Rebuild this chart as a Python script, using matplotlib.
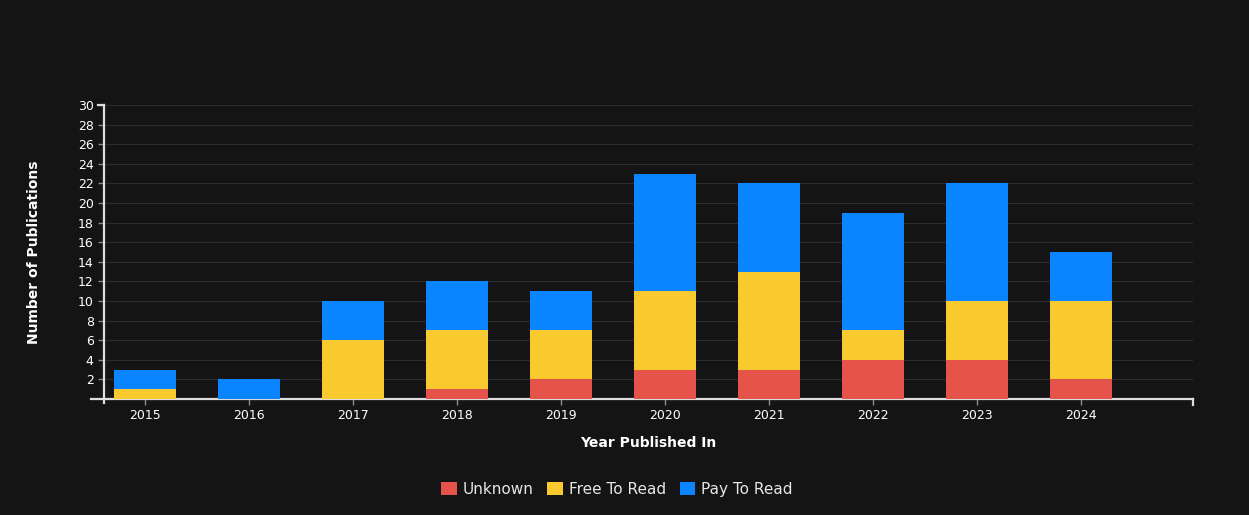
import matplotlib.pyplot as plt
import numpy as np

years = ['2015', '2016', '2017', '2018', '2019', '2020', '2021', '2022', '2023', '2024']
unknown = [0, 0, 0, 1, 2, 3, 3, 4, 4, 2]
free_to_read = [1, 0, 6, 6, 5, 8, 10, 3, 6, 8]
pay_to_read = [2, 2, 4, 5, 4, 12, 9, 12, 12, 5]
y_ticks = list(range(2, 31, 2))

bg = '#141414'
fig = plt.figure(figsize=(12.49, 5.15), dpi=100, facecolor=bg)
ax = fig.add_axes([0.0833, 0.2252, 0.8718, 0.5708])
ax.set_facecolor(bg)

x = np.arange(len(years))
u = np.array(unknown)
f = np.array(free_to_read)
p = np.array(pay_to_read)
w = 0.6
ax.bar(x, u, w, color='#E5534B', label='Unknown', zorder=3)
ax.bar(x, f, w, bottom=u, color='#F9CA2F', label='Free To Read', zorder=3)
ax.bar(x, p, w, bottom=u + f, color='#0A84FF', label='Pay To Read', zorder=3)

ax.set_xlim(-0.394, 10.077)
ax.set_ylim(0, 30)
ax.set_xticks(x)
ax.set_xticklabels(years)
ax.set_yticks(y_ticks)
ax.tick_params(colors='#888888', labelcolor='white', labelsize=9, length=4, width=1)
ax.grid(axis='y', color='#2c2c2c', linewidth=0.8, zorder=0)

for side in ['top', 'right']:
    ax.spines[side].set_visible(False)
for side in ['left', 'bottom']:
    ax.spines[side].set_color('#dddddd')
    ax.spines[side].set_linewidth(1.6)

# end ticks of the axes
ax.plot([0, -0.006], [1, 1], transform=ax.transAxes, color='#dddddd', lw=1.6, clip_on=False)
ax.plot([0, 0], [0, -0.012], transform=ax.transAxes, color='#dddddd', lw=1.6, clip_on=False)
ax.plot([1, 1], [0, -0.02], transform=ax.transAxes, color='#dddddd', lw=1.6, clip_on=False)
ax.plot([0, -0.012], [0, 0], transform=ax.transAxes, color='#dddddd', lw=1.6, clip_on=False)

ax.set_xlabel('Year Published In', color='white', fontsize=10, fontweight='bold', labelpad=10)
ax.set_ylabel('Number of Publications', color='white', fontsize=10, fontweight='bold', labelpad=34)
ax.yaxis.set_label_coords(-0.058, 0.5)

fig.legend(loc='center', bbox_to_anchor=(0.494, 0.05), ncol=3, frameon=False,
           fontsize=11, labelcolor='#e6e6e6', handlelength=1.0, handleheight=1.0,
           handletextpad=0.4, columnspacing=0.9)

plt.savefig('out.png', dpi=100, facecolor=bg)
